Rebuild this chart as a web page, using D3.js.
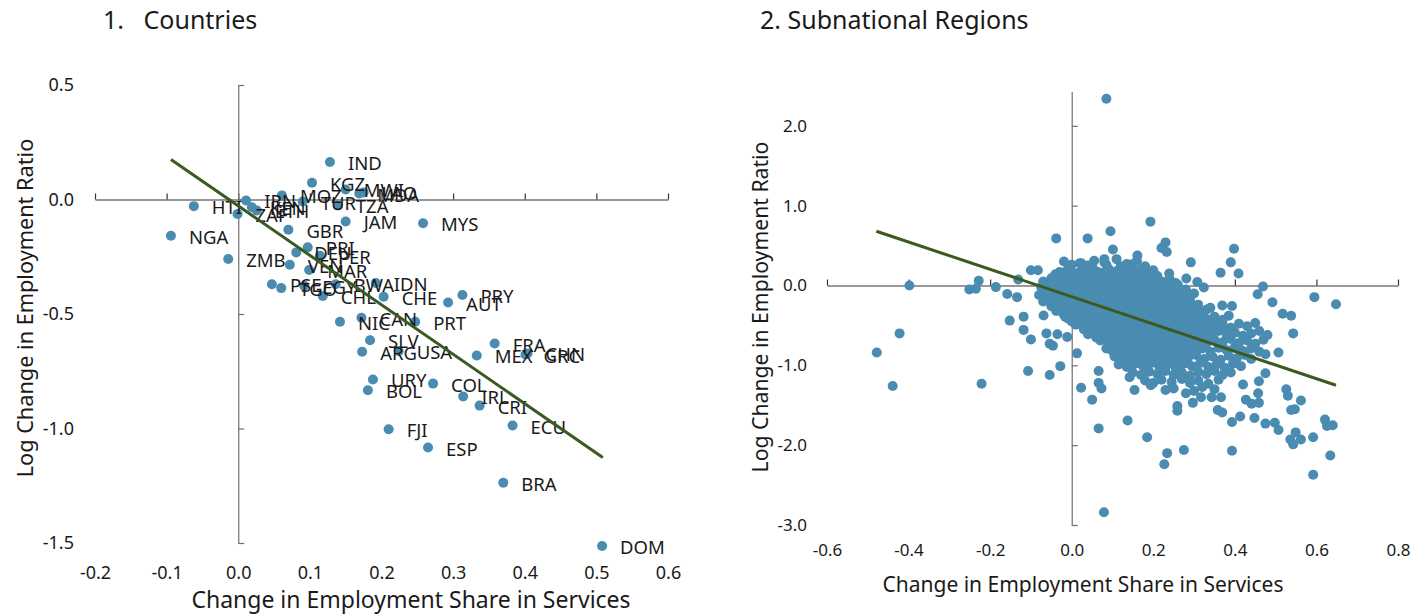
<!DOCTYPE html>
<html>
<head>
<meta charset="utf-8">
<script src="https://cdn.jsdelivr.net/npm/d3@7"></script>
<style>
  body { margin: 0; background: #ffffff; }
  text { font-family: "Noto Sans", "Open Sans", sans-serif; fill: #1a1a1a; }
</style>
</head>
<body>
<svg id="chart" width="1427" height="616"></svg>
<script>
// ---------- Panel 1: countries ----------
const countryCodes = ["IND","KGZ","MWI","MDA","LAO","IRN","KEN","ZAF","ETH","HTI","NGA","MOZ","TUR","TZA",
  "JAM","MYS","GBR","PRI","DEU","PER","ZMB","VEN","MAR","PSE","TGO","EGY","BWA","IDN","CHL","CHE",
  "AUT","PRY","NIC","CAN","PRT","SLV","ARG","USA","FRA","MEX","GRC","CHN","URY","BOL","COL","IRL",
  "CRI","FJI","ECU","ESP","BRA","DOM"];
const countryShift = [0.128,0.103,0.150,0.169,0.175,0.011,0.019,-0.001,0.026,-0.062,-0.094,0.061,0.090,0.139,
  0.150,0.258,0.070,0.097,0.081,0.114,-0.014,0.072,0.099,0.047,0.060,0.092,0.136,0.192,0.118,0.203,
  0.293,0.313,0.142,0.172,0.247,0.184,0.173,0.224,0.358,0.333,0.401,0.404,0.188,0.181,0.272,0.314,
  0.337,0.210,0.383,0.265,0.370,0.508];
const countryRatio = [0.164,0.073,0.044,0.026,0.031,-0.004,-0.034,-0.063,-0.048,-0.029,-0.158,0.018,-0.009,-0.026,
  -0.096,-0.104,-0.132,-0.209,-0.231,-0.246,-0.260,-0.285,-0.308,-0.370,-0.387,-0.377,-0.370,-0.365,-0.421,-0.425,
  -0.450,-0.417,-0.534,-0.516,-0.534,-0.615,-0.665,-0.662,-0.629,-0.681,-0.677,-0.672,-0.786,-0.833,-0.804,-0.860,
  -0.900,-1.003,-0.987,-1.083,-1.237,-1.513];
const countryFitX = [-0.094, 0.509];
const countryFitY = [0.175, -1.127];
const countryXTicks = [-0.2,-0.1,0.0,0.1,0.2,0.3,0.4,0.5,0.6];
const countryYTicks = [0.5,0.0,-0.5,-1.0,-1.5];

// ---------- Panel 2: subnational regions ----------
const regionCore = [
  [0.02,0.28],[0.055,0.31],[0.085,0.26],[0.11,0.33],[0.135,0.27],[0.16,0.31],[0.18,0.24],[-0.005,0.24],[0.035,0.22],
  [-0.03,0.17],[-0.01,0.2],[0.01,0.15],[0.03,0.19],[0.05,0.23],[0.07,0.16],[0.09,0.21],[0.11,0.18],[0.13,0.22],[0.15,0.17],[0.17,0.2],[0.19,0.15],[0.21,0.12],[0.2,0.19],
  [-0.07,0.05],[-0.05,0.09],[-0.035,0.12],[-0.015,0.07],[0.005,0.1],[0.025,0.06],[0.045,0.12],[0.065,0.08],[0.085,0.11],[0.1,0.05],[0.12,0.1],[0.14,0.07],[0.16,0.12],[0.18,0.06],[0.2,0.09],[0.22,0.05],[0.24,0.08],[0.255,0.03],
  [-0.075,-0.02],[-0.055,0.01],[-0.04,-0.03],[-0.02,0.02],[0.0,-0.01],[0.02,0.03],[0.04,-0.02],[0.06,0.02],[0.08,-0.03],[0.1,0.01],[0.12,-0.02],[0.14,0.03],[0.16,-0.01],[0.18,0.02],[0.2,-0.03],[0.22,0.0],[0.24,-0.04],[0.26,0.01],[0.28,-0.05],
  [-0.08,-0.12],[-0.06,-0.09],[-0.04,-0.13],[-0.02,-0.08],[0.0,-0.12],[0.02,-0.09],[0.04,-0.13],[0.06,-0.08],[0.08,-0.11],[0.1,-0.14],[0.12,-0.09],[0.14,-0.12],[0.16,-0.08],[0.18,-0.13],[0.2,-0.1],[0.22,-0.14],[0.24,-0.09],[0.26,-0.12],[0.28,-0.15],[0.3,-0.1],
  [-0.07,-0.2],[-0.05,-0.23],[-0.03,-0.18],[-0.01,-0.22],[0.01,-0.19],[0.03,-0.24],[0.05,-0.2],[0.07,-0.17],[0.09,-0.22],[0.11,-0.19],[0.13,-0.24],[0.15,-0.2],[0.17,-0.17],[0.19,-0.23],[0.21,-0.2],[0.23,-0.25],[0.25,-0.19],[0.27,-0.22],[0.29,-0.18],[0.31,-0.24],
  [-0.04,-0.28],[-0.02,-0.32],[0.0,-0.29],[0.02,-0.33],[0.04,-0.3],[0.06,-0.27],[0.08,-0.31],[0.1,-0.34],[0.12,-0.29],[0.14,-0.32],[0.16,-0.28],[0.18,-0.33],[0.2,-0.3],[0.22,-0.27],[0.24,-0.32],[0.26,-0.29],[0.28,-0.34],[0.3,-0.3],[0.32,-0.33],[0.34,-0.28],
  [-0.01,-0.41],[0.01,-0.38],[0.03,-0.42],[0.05,-0.39],[0.07,-0.43],[0.09,-0.4],[0.11,-0.37],[0.13,-0.42],[0.15,-0.39],[0.17,-0.43],[0.19,-0.4],[0.21,-0.37],[0.23,-0.42],[0.25,-0.39],[0.27,-0.44],[0.29,-0.4],[0.31,-0.37],[0.33,-0.42],[0.35,-0.39],[0.37,-0.43],[0.385,-0.38],
  [0.01,-0.49],[0.03,-0.52],[0.05,-0.48],[0.07,-0.51],[0.09,-0.47],[0.11,-0.52],[0.13,-0.49],[0.15,-0.53],[0.17,-0.48],[0.19,-0.51],[0.21,-0.47],[0.23,-0.52],[0.25,-0.49],[0.27,-0.53],[0.29,-0.48],[0.31,-0.51],[0.33,-0.47],[0.35,-0.52],[0.37,-0.49],[0.39,-0.53],[0.41,-0.48],[0.43,-0.51],[0.45,-0.47],
  [0.04,-0.61],[0.06,-0.58],[0.08,-0.62],[0.1,-0.59],[0.12,-0.63],[0.14,-0.6],[0.16,-0.57],[0.18,-0.62],[0.2,-0.59],[0.22,-0.63],[0.24,-0.6],[0.26,-0.57],[0.28,-0.62],[0.3,-0.59],[0.32,-0.63],[0.34,-0.6],[0.36,-0.57],[0.38,-0.62],[0.4,-0.59],[0.42,-0.63],[0.44,-0.6],[0.46,-0.57],[0.48,-0.62],
  [0.07,-0.69],[0.09,-0.72],[0.11,-0.68],[0.13,-0.71],[0.15,-0.67],[0.17,-0.72],[0.19,-0.69],[0.21,-0.73],[0.23,-0.68],[0.25,-0.71],[0.27,-0.67],[0.29,-0.72],[0.31,-0.69],[0.33,-0.73],[0.35,-0.68],[0.37,-0.71],[0.39,-0.67],[0.41,-0.72],[0.43,-0.69],[0.45,-0.73],[0.47,-0.68],
  [0.085,-0.79],[0.1,-0.82],[0.12,-0.78],[0.14,-0.81],[0.16,-0.77],[0.18,-0.82],[0.2,-0.79],[0.22,-0.83],[0.24,-0.78],[0.26,-0.81],[0.28,-0.77],[0.3,-0.82],[0.32,-0.79],[0.34,-0.83],[0.36,-0.78],[0.38,-0.81],[0.4,-0.77],[0.42,-0.82],[0.44,-0.79],[0.46,-0.83],
  [0.105,-0.89],[0.125,-0.92],[0.145,-0.88],[0.165,-0.91],[0.185,-0.87],[0.205,-0.92],[0.225,-0.89],[0.245,-0.93],[0.265,-0.88],[0.285,-0.91],[0.305,-0.87],[0.325,-0.92],[0.345,-0.89],[0.365,-0.93],[0.385,-0.88],[0.405,-0.91],[0.425,-0.87],[0.44,-0.92],
  [0.115,-0.99],[0.135,-1.02],[0.155,-0.98],[0.175,-1.01],[0.195,-0.97],[0.215,-1.02],[0.235,-0.99],[0.255,-1.03],[0.275,-0.98],[0.295,-1.01],[0.315,-0.97],[0.335,-1.02],[0.355,-0.99],[0.375,-1.03],[0.395,-0.98],[0.415,-1.01],
  [0.15,-1.09],[0.17,-1.12],[0.19,-1.08],[0.21,-1.11],[0.23,-1.07],[0.25,-1.12],[0.27,-1.09],[0.29,-1.13],[0.31,-1.08],[0.33,-1.11],[0.35,-1.07],[0.37,-1.12],[0.39,-1.09],
  [0.18,-1.19],[0.2,-1.22],[0.22,-1.18],[0.245,-1.21],[0.27,-1.17],[0.29,-1.22],[0.31,-1.19],[0.335,-1.23],[0.36,-1.18],
  [0.25,-1.29],[0.3,-1.32],[0.32,-1.27],[0.35,-1.3]
];
// second, interleaved layer of the densest part of the cloud
const regionCoreInner = [
  [0.0,0.26],[0.04,0.25],[0.08,0.29],[0.12,0.24],[0.15,0.27],
  [-0.04,0.14],[-0.02,0.16],[0.0,0.13],[0.02,0.17],[0.04,0.14],[0.06,0.18],[0.08,0.15],[0.1,0.13],[0.12,0.16],[0.14,0.14],[0.16,0.17],[0.18,0.13],
  [-0.06,0.03],[-0.045,0.06],[-0.025,0.04],[-0.005,0.06],[0.015,0.03],[0.035,0.05],[0.055,0.04],[0.075,0.06],[0.095,0.03],[0.11,0.07],[0.13,0.04],[0.15,0.05],[0.17,0.03],[0.19,0.06],[0.21,0.02],[0.23,0.04],
  [-0.065,-0.06],[-0.05,-0.04],[-0.03,-0.06],[-0.01,-0.04],[0.01,-0.06],[0.03,-0.04],[0.05,-0.06],[0.07,-0.05],[0.09,-0.07],[0.11,-0.05],[0.13,-0.06],[0.15,-0.04],[0.17,-0.06],[0.19,-0.05],[0.21,-0.07],[0.23,-0.05],[0.25,-0.07],[0.27,-0.08],
  [-0.06,-0.16],[-0.04,-0.15],[-0.02,-0.17],[0.0,-0.15],[0.02,-0.16],[0.04,-0.14],[0.06,-0.16],[0.08,-0.15],[0.1,-0.17],[0.12,-0.15],[0.14,-0.16],[0.16,-0.14],[0.18,-0.17],[0.2,-0.15],[0.22,-0.16],[0.24,-0.14],[0.26,-0.17],[0.28,-0.15],
  [-0.05,-0.26],[-0.02,-0.25],[0.0,-0.24],[0.02,-0.27],[0.04,-0.25],[0.06,-0.24],[0.08,-0.26],[0.1,-0.25],[0.12,-0.27],[0.14,-0.24],[0.16,-0.25],[0.18,-0.27],[0.2,-0.24],[0.22,-0.26],[0.24,-0.25],[0.26,-0.27],[0.28,-0.24],[0.3,-0.26],
  [-0.02,-0.36],[0.0,-0.34],[0.02,-0.36],[0.04,-0.35],[0.06,-0.37],[0.08,-0.35],[0.1,-0.36],[0.12,-0.34],[0.14,-0.37],[0.16,-0.35],[0.18,-0.36],[0.2,-0.34],[0.22,-0.37],[0.24,-0.35],[0.26,-0.36],[0.28,-0.34],[0.3,-0.37],[0.32,-0.35],
  [0.0,-0.45],[0.02,-0.46],[0.04,-0.44],[0.06,-0.46],[0.08,-0.45],[0.1,-0.44],[0.12,-0.46],[0.14,-0.45],[0.16,-0.44],[0.18,-0.46],[0.2,-0.45],[0.22,-0.44],[0.24,-0.46],[0.26,-0.45],[0.28,-0.44],[0.3,-0.46],[0.32,-0.45],[0.34,-0.44],[0.36,-0.46],
  [0.03,-0.55],[0.05,-0.56],[0.07,-0.54],[0.09,-0.56],[0.11,-0.55],[0.13,-0.54],[0.15,-0.56],[0.17,-0.55],[0.19,-0.54],[0.21,-0.56],[0.23,-0.55],[0.25,-0.54],[0.27,-0.56],[0.29,-0.55],[0.31,-0.54],[0.33,-0.56],[0.35,-0.55],[0.37,-0.54],
  [0.06,-0.65],[0.08,-0.66],[0.1,-0.64],[0.12,-0.66],[0.14,-0.65],[0.16,-0.64],[0.18,-0.66],[0.2,-0.65],[0.22,-0.64],[0.24,-0.66],[0.26,-0.65],[0.28,-0.64],[0.3,-0.66],[0.32,-0.65],[0.34,-0.64],
  [0.09,-0.75],[0.11,-0.76],[0.13,-0.74],[0.15,-0.76],[0.17,-0.75],[0.19,-0.74],[0.21,-0.76],[0.23,-0.75],[0.25,-0.74],[0.27,-0.76],[0.29,-0.75],[0.31,-0.74],
  [0.11,-0.85],[0.13,-0.86],[0.15,-0.84],[0.17,-0.86],[0.19,-0.85],[0.21,-0.84],[0.23,-0.86],[0.25,-0.85],[0.27,-0.84],[0.29,-0.86],
  [0.14,-0.95],[0.16,-0.96],[0.18,-0.94],[0.2,-0.96],[0.22,-0.95],[0.24,-0.94],[0.26,-0.96]
];
const regionOutliers = [
  [0.085,2.34],[0.193,0.80],[0.095,0.68],[-0.038,0.59],[0.039,0.59],[0.101,0.45],[0.22,0.47],[0.23,0.54],[0.233,0.42],
  [0.398,0.46],[0.39,0.29],[0.365,0.16],[0.409,0.15],[0.292,0.29],[0.161,0.375],[0.08,0.33],[0.023,0.28],[-0.019,0.30],
  [-0.398,0.0],[-0.228,0.06],[-0.251,-0.05],[-0.235,-0.04],[-0.186,-0.02],[-0.131,0.075],[-0.10,0.19],[-0.083,0.19],
  [-0.158,-0.106],[-0.134,-0.146],[-0.152,-0.44],[-0.118,-0.39],[-0.118,-0.556],[-0.10,-0.675],[-0.069,-0.375],
  [-0.062,-0.60],[-0.054,-0.73],[-0.046,-0.755],[-0.028,-1.01],[-0.054,-1.12],[-0.107,-1.07],[-0.221,-1.23],
  [-0.439,-1.26],[-0.422,-0.60],[-0.478,-0.84],[-0.035,-0.61],[-0.011,-0.645],[-0.016,-0.39],[-0.038,-0.32],
  [0.013,-0.85],[0.023,-1.28],[0.05,-1.43],[0.066,-1.07],[0.066,-1.22],[0.073,-1.29],[0.066,-1.79],[0.079,-2.84],
  [0.137,-1.69],[0.154,-1.31],[0.142,-1.15],[0.185,-1.90],[0.194,-1.25],[0.227,-2.24],[0.234,-2.10],[0.23,-1.31],
  [0.259,-1.51],[0.259,-1.57],[0.275,-2.06],[0.28,-1.35],[0.297,-1.47],[0.317,-1.40],[0.343,-1.40],[0.358,-1.56],
  [0.369,-1.59],[0.366,-1.40],[0.393,-1.71],[0.413,-1.64],[0.393,-2.07],[0.427,-1.43],[0.441,-1.48],[0.448,-1.66],
  [0.459,-1.47],[0.457,-1.35],[0.475,-1.73],[0.498,-1.72],[0.507,-1.81],[0.526,-1.30],[0.530,-1.38],[0.538,-1.56],
  [0.547,-1.55],[0.562,-1.44],[0.549,-1.84],[0.536,-1.93],[0.543,-1.99],[0.562,-1.93],[0.592,-1.90],[0.621,-1.68],
  [0.626,-1.76],[0.640,-1.75],[0.634,-2.13],[0.592,-2.37],[0.595,-0.146],[0.648,-0.234],[0.469,-0.013],[0.456,-0.11],
  [0.492,-0.21],[0.517,-0.353],[0.538,-0.38],[0.543,-0.60],[0.507,-0.84],[0.475,-0.86],[0.475,-1.10],[0.459,-1.20],
  [0.42,-1.24],[0.393,-0.256],[0.369,-0.25],[0.331,-0.30],[0.324,-0.026],[0.308,0.044],[0.281,0.088],[0.294,-0.234],
  [0.239,0.15]
];
const regionFitX = [-0.479, 0.648];
const regionFitY = [0.68, -1.25];
const regionXTicks = [-0.6,-0.4,-0.2,0.0,0.2,0.4,0.6,0.8];
const regionYTicks = [2.0,1.0,0.0,-1.0,-2.0,-3.0];

const dotColor = "#4a8cb1";
const fitColor = "#3a5a1f";
const fmt = d => d.toFixed(1);

const svg = d3.select("#chart");

// Draws one crossing-axes scatter panel
function drawPanel(cfg) {
  const g = svg.append("g");
  const x = d3.scaleLinear().domain(cfg.xDomain).range(cfg.xRange);
  const y = d3.scaleLinear().domain(cfg.yDomain).range(cfg.yRange);

  // horizontal axis through y = 0, ticks pointing up
  g.append("g")
    .attr("transform", `translate(0,${y(0)})`)
    .call(d3.axisTop(x).tickValues(cfg.xTicks).tickSize(6).tickSizeOuter(0).tickFormat(""))
    .call(a => a.selectAll("path, line").attr("stroke", "#333").attr("stroke-width", 1.2));

  // vertical axis through x = 0, ticks pointing right
  g.append("g")
    .attr("transform", `translate(${x(0)},0)`)
    .call(d3.axisRight(y).tickValues(cfg.yTicks).tickSize(6).tickSizeOuter(0).tickFormat(""))
    .call(a => a.selectAll("path, line").attr("stroke", "#6f6f6f").attr("stroke-width", 1.2));

  // tick labels along the outer edges
  g.append("g")
    .attr("transform", `translate(0,${cfg.xLabelY})`)
    .call(d3.axisBottom(x).tickValues(cfg.xTicks).tickSize(0).tickFormat(fmt))
    .call(a => a.select(".domain").remove())
    .call(a => a.selectAll("text").attr("font-size", cfg.tickSize).attr("fill", "#1a1a1a")
      .attr("font-family", "Noto Sans, Open Sans, sans-serif"));
  g.append("g")
    .attr("transform", `translate(${cfg.yLabelX},0)`)
    .call(d3.axisLeft(y).tickValues(cfg.yTicks).tickSize(0).tickFormat(fmt))
    .call(a => a.select(".domain").remove())
    .call(a => a.selectAll("text").attr("font-size", cfg.tickSize).attr("fill", "#1a1a1a")
      .attr("font-family", "Noto Sans, Open Sans, sans-serif"));

  // axis titles
  g.append("text")
    .attr("x", cfg.xTitle[0]).attr("y", cfg.xTitle[1])
    .attr("text-anchor", "middle").attr("font-size", cfg.xTitleSize)
    .text("Change in Employment Share in Services");
  g.append("text")
    .attr("transform", `translate(${cfg.yTitle[0]},${cfg.yTitle[1]}) rotate(-90)`)
    .attr("text-anchor", "middle").attr("font-size", cfg.yTitleSize)
    .text("Log Change in Employment Ratio");

  // panel title
  g.append("text")
    .attr("x", cfg.title[0]).attr("y", cfg.title[1])
    .attr("font-size", 25)
    .attr("xml:space", "preserve")
    .text(cfg.titleText);

  // points
  g.append("g").selectAll("circle")
    .data(cfg.points).join("circle")
    .attr("cx", d => x(d[0])).attr("cy", d => y(d[1]))
    .attr("r", cfg.r).attr("fill", dotColor);

  // point labels
  if (cfg.labels) {
    g.append("g").selectAll("text")
      .data(cfg.points).join("text")
      .attr("x", d => x(d[0]) + 18).attr("y", d => y(d[1]) + 8)
      .attr("font-size", 18.5)
      .text((d, i) => cfg.labels[i]);
  }

  // fitted line
  g.append("path")
    .datum(d3.zip(cfg.fitX, cfg.fitY))
    .attr("d", d3.line().x(d => x(d[0])).y(d => y(d[1])))
    .attr("fill", "none").attr("stroke", fitColor).attr("stroke-width", 3);
}

drawPanel({
  xDomain: [-0.2, 0.6], xRange: [95, 668],
  yDomain: [-1.5, 0.5], yRange: [543, 85],
  xTicks: countryXTicks, yTicks: countryYTicks,
  xLabelY: 563, yLabelX: 77, tickSize: 18,
  xTitle: [411, 608], yTitle: [33, 308], xTitleSize: 23, yTitleSize: 21.7,
  title: [103, 29], titleText: "1.   Countries",
  points: d3.zip(countryShift, countryRatio), labels: countryCodes, r: 5,
  fitX: countryFitX, fitY: countryFitY
});

drawPanel({
  xDomain: [-0.6, 0.8], xRange: [827, 1398],
  yDomain: [-3.0, 2.43], yRange: [525, 91.5],
  xTicks: regionXTicks, yTicks: regionYTicks,
  xLabelY: 541, yLabelX: 810, tickSize: 17,
  xTitle: [1083, 592], yTitle: [768, 307], xTitleSize: 21, yTitleSize: 21.2,
  title: [760, 29], titleText: "2. Subnational Regions",
  points: regionCore.concat(regionCoreInner, regionOutliers), labels: null, r: 5,
  fitX: regionFitX, fitY: regionFitY
});
</script>
</body>
</html>
